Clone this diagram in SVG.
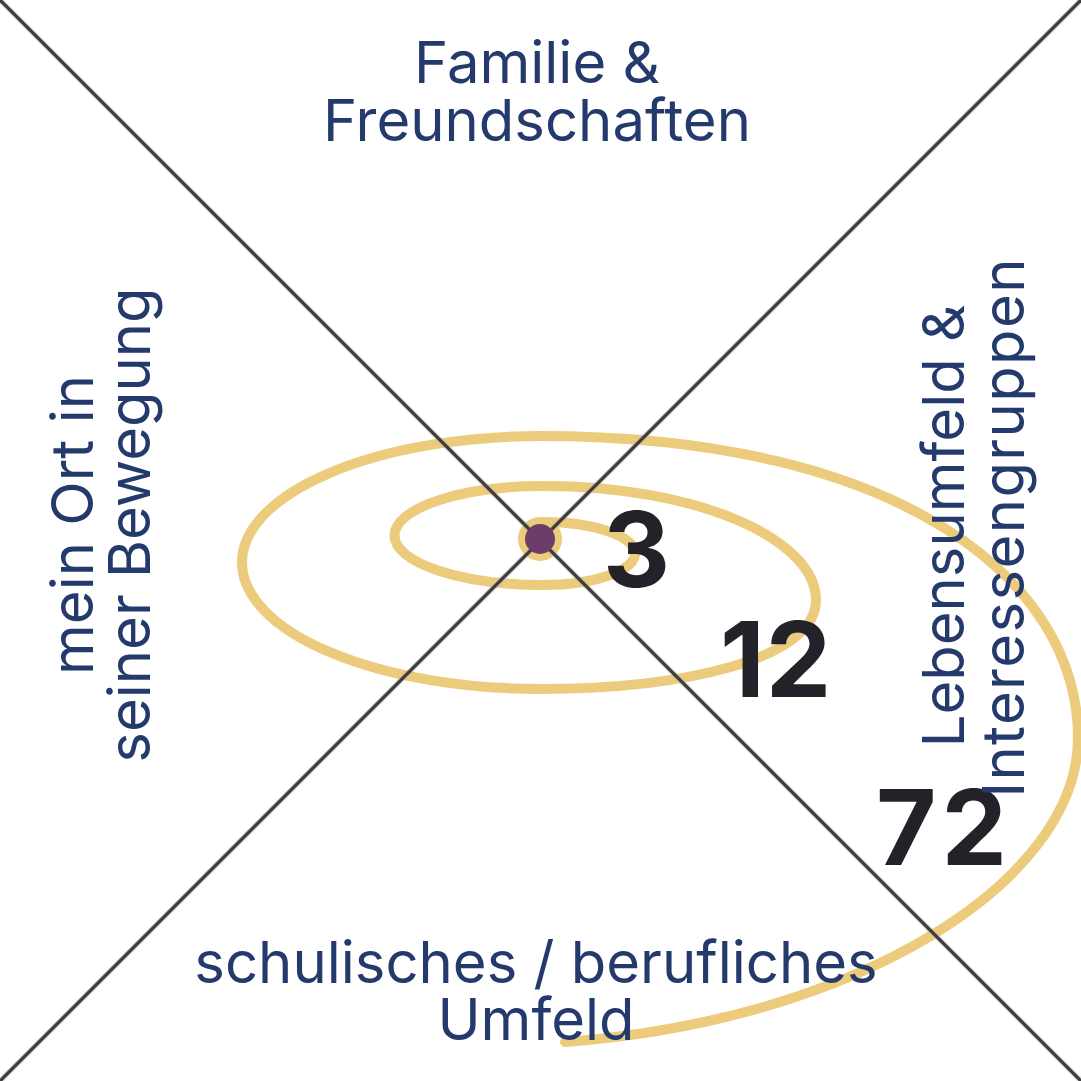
<svg xmlns="http://www.w3.org/2000/svg" width="1081" height="1081" viewBox="0 0 1081 1081">
  <style>
    .lbl { font-family: Inter, "Noto Sans", "Liberation Sans", sans-serif; font-size: 58px; font-weight: 400; fill: #253a6c; text-anchor: middle; }
    .num { font-family: Inter, "Noto Sans", "Liberation Sans", sans-serif; font-size: 104px; font-weight: 700; fill: #232228; }
    .spiral { fill: none; stroke: #edcb7c; stroke-width: 10; stroke-linecap: round; stroke-linejoin: round; }
    .axis { stroke: #3d3b3b; stroke-width: 3.2; stroke-linecap: butt; }
    .axis-shadow { stroke: #a8a8a8; stroke-width: 5.5; opacity: 0.45; }
  </style>
  <rect width="1081" height="1081" fill="#ffffff"/>

  <g id="spiral">
    <circle cx="540" cy="539" r="22" fill="#edcb7c"/>
    <path class="spiral" d="M 543,522 A 92 31.5 0 0 1 543,585 A 147 49 0 0 1 543,486 C 700,486 816,540 816,600 C 816,660 680,689 540,689 A 298 126.5 0 0 1 540,436 C 900,436 1078,580 1078,738 C 1078,880 860,1020 565,1042"/>
  </g>

  <g id="connectors">
    <line class="axis-shadow" x1="0" y1="0" x2="1081" y2="1081"/>
    <line class="axis-shadow" x1="1081" y1="0" x2="0" y2="1081"/>
    <line class="axis" x1="0" y1="0" x2="1081" y2="1081"/>
    <line class="axis" x1="1081" y1="0" x2="0" y2="1081"/>
  </g>

  <g id="center">
    <circle cx="540" cy="539" r="15" fill="#6d3d6a"/>
  </g>

  <g id="numbers">
    <text class="num" x="603" y="587">3</text>
    <text class="num" x="720" y="697" letter-spacing="1">12</text>
    <text class="num" x="876" y="865" letter-spacing="5">72</text>
  </g>

  <g id="top-label">
    <text class="lbl" x="537" y="83">Familie &amp;</text>
    <text class="lbl" x="537" y="141">Freundschaften</text>
  </g>

  <g id="bottom-label">
    <text class="lbl" x="536" y="983">schulisches / berufliches</text>
    <text class="lbl" x="536" y="1040">Umfeld</text>
  </g>

  <g id="left-label">
    <text class="lbl" transform="translate(93,525) rotate(-90)">mein Ort in</text>
    <text class="lbl" transform="translate(150,525) rotate(-90)">seiner Bewegung</text>
  </g>

  <g id="right-label">
    <text class="lbl" transform="translate(964,526) rotate(-90)">Lebensumfeld &amp;</text>
    <text class="lbl" transform="translate(1024,528) rotate(-90)" textLength="539" lengthAdjust="spacing">Interessengruppen</text>
  </g>
</svg>
